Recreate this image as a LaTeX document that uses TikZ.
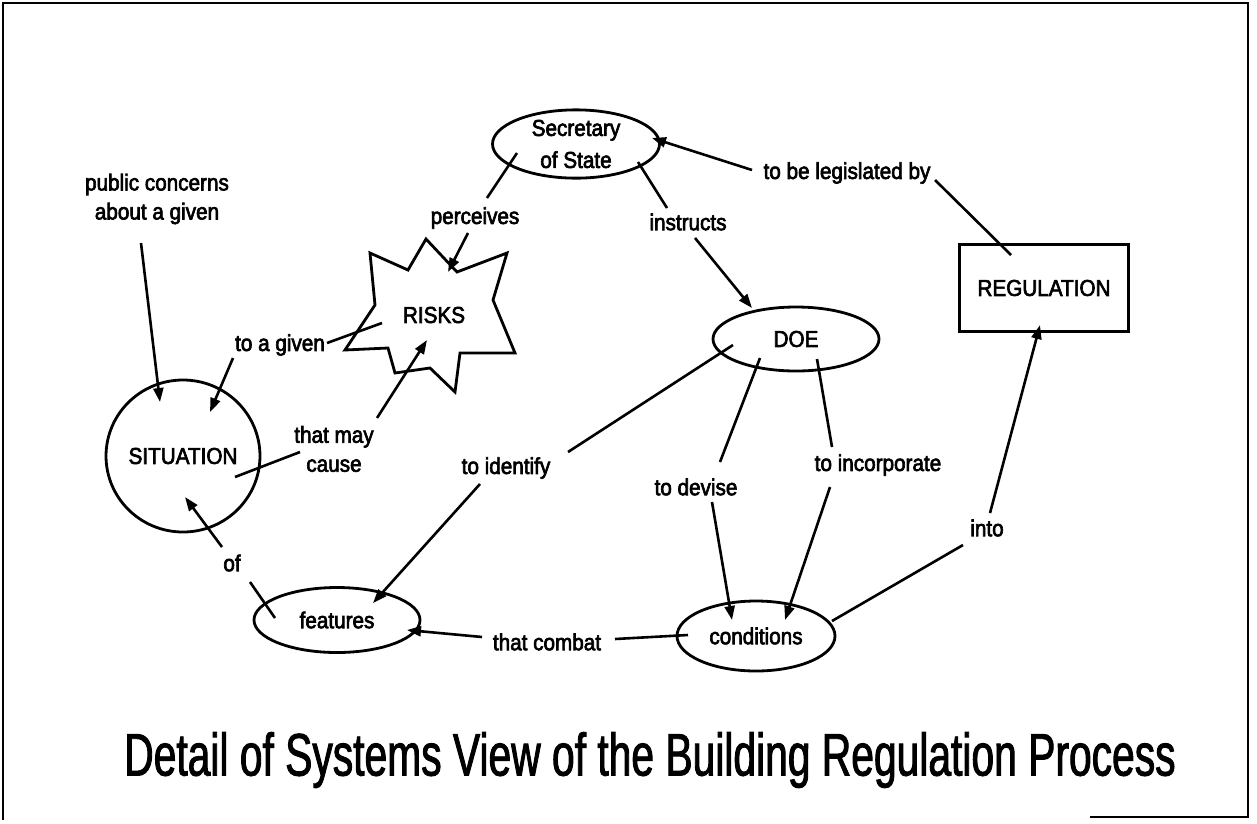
\documentclass[tikz,border=0pt]{standalone}
\usepackage{fontspec}
\setmainfont{Liberation Sans}[FakeStretch=0.9,FakeBold=2.8]
\newfontfamily\titlefont{Liberation Sans}[FakeStretch=0.68,FakeBold=1.5]
\usetikzlibrary{shapes.geometric,arrows.meta,calc}
\begin{document}
\begin{tikzpicture}[x=1pt,y=-1pt,
  every node/.style={inner sep=1pt, font=\fontsize{23}{29}\selectfont, align=center},
  outline/.style={draw, line width=2.8pt},
  oval/.style={ellipse, outline, inner sep=0pt},
  link/.style={line width=2.6pt},
  arr/.style={link, -{Triangle[length=14pt,width=10pt]}},
]
\useasboundingbox (0,0) rectangle (1257,823);
% frame
\draw[line width=2.8pt] (1090,817) -- (1248,817) -- (1248,3) -- (3,3) -- (3,820);

% concepts
\node[oval, minimum width=167pt, minimum height=64pt, font=\fontsize{23}{32}\selectfont] (sec) at (576,144) {Secretary\\of State};
\node[oval, minimum width=166pt, minimum height=64pt] (doe) at (796,339) {DOE};
\node[outline, minimum width=169pt, minimum height=87pt] (reg) at (1044,288) {REGULATION};
\node[oval, minimum width=141pt, minimum height=152pt] (sit) at (183,456) {SITUATION};
\node[oval, minimum width=166pt, minimum height=65pt] (feat) at (337,620) {features};
\node[oval, minimum width=158pt, minimum height=70pt] (cond) at (756,636) {conditions};
\node (risks) at (434,315) {RISKS};
\begin{scope}[shift={(risks.center)}]
  \draw[outline, line join=miter] (-64,-62) -- (-26,-45) -- (-8,-76) -- (23,-43) -- (73,-62)
    -- (59,-15) -- (81,38) -- (26,38) -- (21,77) -- (-4,53) -- (-39,58) -- (-46,33)
    -- (-89,35) -- (-59,-10) -- cycle;
\end{scope}

% link phrases
\node (pc) at (157,199) {public concerns\\about a given};
\node (perc) at (475,218) {perceives};
\node (instr) at (688,222) {instructs};
\node (legis) at (847,173) {to be legislated by};
\node (tag) at (280,345) {to a given};
\node (tmc) at (334,449) {that may\\cause};
\node (of) at (232,563) {of};
\node (toid) at (506,468) {to identify};
\node (tdv) at (696,487) {to devise};
\node (tinc) at (878,465) {to incorporate};
\node (into) at (987,528) {into};
\node (tc) at (547,642) {that combat};

% connectors
\draw[link] ($(sec)+(-59,9)$) -- ($(perc)+(12,-20)$);
\draw[arr] ($(perc)+(-7,15)$) -- ($(risks)+(14,-43)$);
\draw[link] ($(sec)+(62,18)$) -- ($(instr)+(-21,-14)$);
\draw[arr] ($(instr)+(7,16)$) -- ($(doe)+(-44,-31)$);
\draw[link] ($(reg)+(-33,-33)$) -- ($(legis)+(88,7)$);
\draw[arr] ($(legis)+(-95,-3)$) -- ($(sec)+(76,-6)$);
\draw[arr] ($(pc)+(-16,44)$) -- ($(sit)+(-23,-54)$);
\draw[link] ($(risks)+(-52,8)$) -- ($(tag)+(47,-2)$);
\draw[arr] ($(tag)+(-47,13)$) -- ($(sit)+(27,-44)$);
\draw[link] ($(sit)+(52,21)$) -- ($(tmc)+(-34,3)$);
\draw[arr] ($(tmc)+(43,-31)$) -- ($(risks)+(-7,25)$);
\draw[link] ($(feat)+(-62,-2)$) -- ($(of)+(18,19)$);
\draw[arr] ($(of)+(-10,-16)$) -- ($(sit)+(2,41)$);
\draw[link] ($(doe)+(-63,6)$) -- ($(toid)+(62,-16)$);
\draw[arr] ($(toid)+(-26,16)$) -- ($(feat)+(36,-17)$);
\draw[link] ($(doe)+(-36,19)$) -- ($(tdv)+(24,-25)$);
\draw[arr] ($(tdv)+(16,15)$) -- ($(cond)+(-24,-16)$);
\draw[link] ($(doe)+(21,20)$) -- ($(tinc)+(-46,-18)$);
\draw[arr] ($(tinc)+(-48,22)$) -- ($(cond)+(29,-16)$);
\draw[link] ($(cond)+(76,-15)$) -- ($(into)+(-24,17)$);
\draw[arr] ($(into)+(3,-15)$) -- ($(reg)+(-4,37)$);
\draw[link] ($(cond)+(-68,-1)$) -- ($(tc)+(68,-3)$);
\draw[arr] ($(tc)+(-65,-5)$) -- ($(feat)+(70,10)$);

% caption
\node[font=\titlefont\fontsize{60}{60}\selectfont] (title) at (650,760) {Detail of Systems View of the Building Regulation Process};
\end{tikzpicture}
\end{document}
